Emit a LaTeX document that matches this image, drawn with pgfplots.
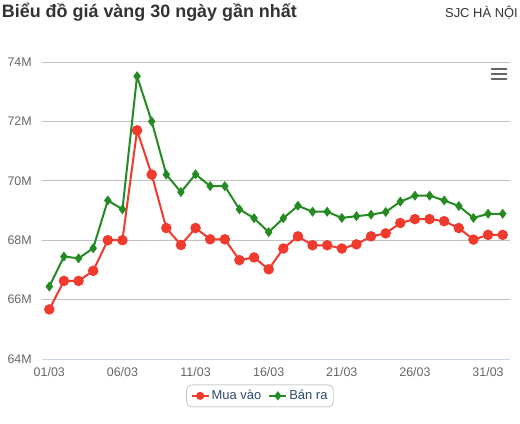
\documentclass[border=0pt]{standalone}
\usepackage{fontspec}
\setmainfont{Liberation Sans}
\usepackage{pgfplots}
\usepackage{pgfplotstable}
\pgfplotsset{compat=1.18}
\definecolor{buy}{RGB}{240,58,46}
\definecolor{sell}{RGB}{35,139,34}
\definecolor{gridc}{RGB}{195,195,195}
\definecolor{axc}{RGB}{204,214,235}
\definecolor{lab}{RGB}{102,102,102}
\definecolor{legt}{RGB}{44,74,107}
\definecolor{ttl}{RGB}{51,51,51}

\pgfplotstableread{
i buy sell
0 65.67 66.44
1 66.63 67.45
2 66.63 67.39
3 66.97 67.73
4 68.00 69.34
5 68.00 69.04
6 71.70 73.52
7 70.21 72.00
8 68.41 70.21
9 67.84 69.62
10 68.41 70.22
11 68.03 69.82
12 68.03 69.82
13 67.33 69.04
14 67.42 68.74
15 67.02 68.27
16 67.72 68.74
17 68.13 69.16
18 67.83 68.96
19 67.83 68.96
20 67.72 68.75
21 67.86 68.81
22 68.13 68.86
23 68.23 68.95
24 68.58 69.30
25 68.71 69.50
26 68.71 69.50
27 68.64 69.34
28 68.41 69.15
29 68.02 68.75
30 68.18 68.89
31 68.18 68.89
}\prices

\begin{document}
\begin{tikzpicture}[x=1bp,y=1bp]
\useasboundingbox (-42,-64) rectangle (478,359);
\begin{axis}[
  at={(0,0)}, anchor=south west,
  scale only axis, width=468bp, height=297bp,
  xmin=-0.5, xmax=31.5, ymin=64, ymax=74,
  axis x line*=bottom, axis y line*=left,
  x axis line style={draw=axc, line width=0.8bp, -},
  y axis line style={draw=none},
  ymajorgrids, grid style={draw=gridc, line width=0.8bp},
  ytick={64,66,68,70,72,74},
  yticklabels={64M,66M,68M,70M,72M,74M},
  ytick style={draw=none},
  xtick={0,5,10,15,20,25,30},
  xticklabels={01/03,06/03,11/03,16/03,21/03,26/03,31/03},
  xtick style={draw=none},
  minor xtick={-0.5,0.5,...,31.5},
  minor tick length=5bp,
  tick align=outside,
  minor tick style={draw=axc, line width=0.8bp},
  tick label style={font=\fontsize{12.5}{14}\selectfont, text=lab},
  yticklabel style={xshift=-2.5bp},
  xticklabel style={yshift=-0.5bp},
  legend style={at={(0.466,-0.124)}, anchor=center, draw=gray!75,
    rounded corners=5bp, font=\fontsize{13}{15}\selectfont, text=legt,
    inner xsep=4bp, inner ysep=3.5bp,
    /tikz/every even column/.append style={column sep=5bp}},
  legend image post style={mark size=3bp},
  legend columns=2,
  clip=false,
]
\addplot[buy, line width=2bp, mark=*, mark size=4.2bp, mark options={draw=none, fill=buy}] table[x=i, y=buy] {\prices};
\addlegendentry{Mua vào}
\addplot[sell, line width=2bp, mark=diamond*, mark size=3.4bp, mark options={draw=none, fill=sell}] table[x=i, y=sell] {\prices};
\addlegendentry{Bán ra}
\end{axis}
\node[anchor=base west, inner sep=0, font=\bfseries\fontsize{18}{20}\selectfont, text=ttl] at (-40.3,341.7) {Biểu đồ giá vàng 30 ngày gần nhất};
\node[anchor=base east, inner sep=0, font=\fontsize{13}{15}\selectfont, text=ttl] at (476,341.7) {SJC HÀ NỘI};
\draw[lab, line width=2.2bp, line cap=round] (449.7,290)--(464.3,290);
\draw[lab, line width=2.2bp, line cap=round] (449.7,284.7)--(464.3,284.7);
\draw[lab, line width=2.2bp, line cap=round] (449.7,279.7)--(464.3,279.7);
\end{tikzpicture}
\end{document}
